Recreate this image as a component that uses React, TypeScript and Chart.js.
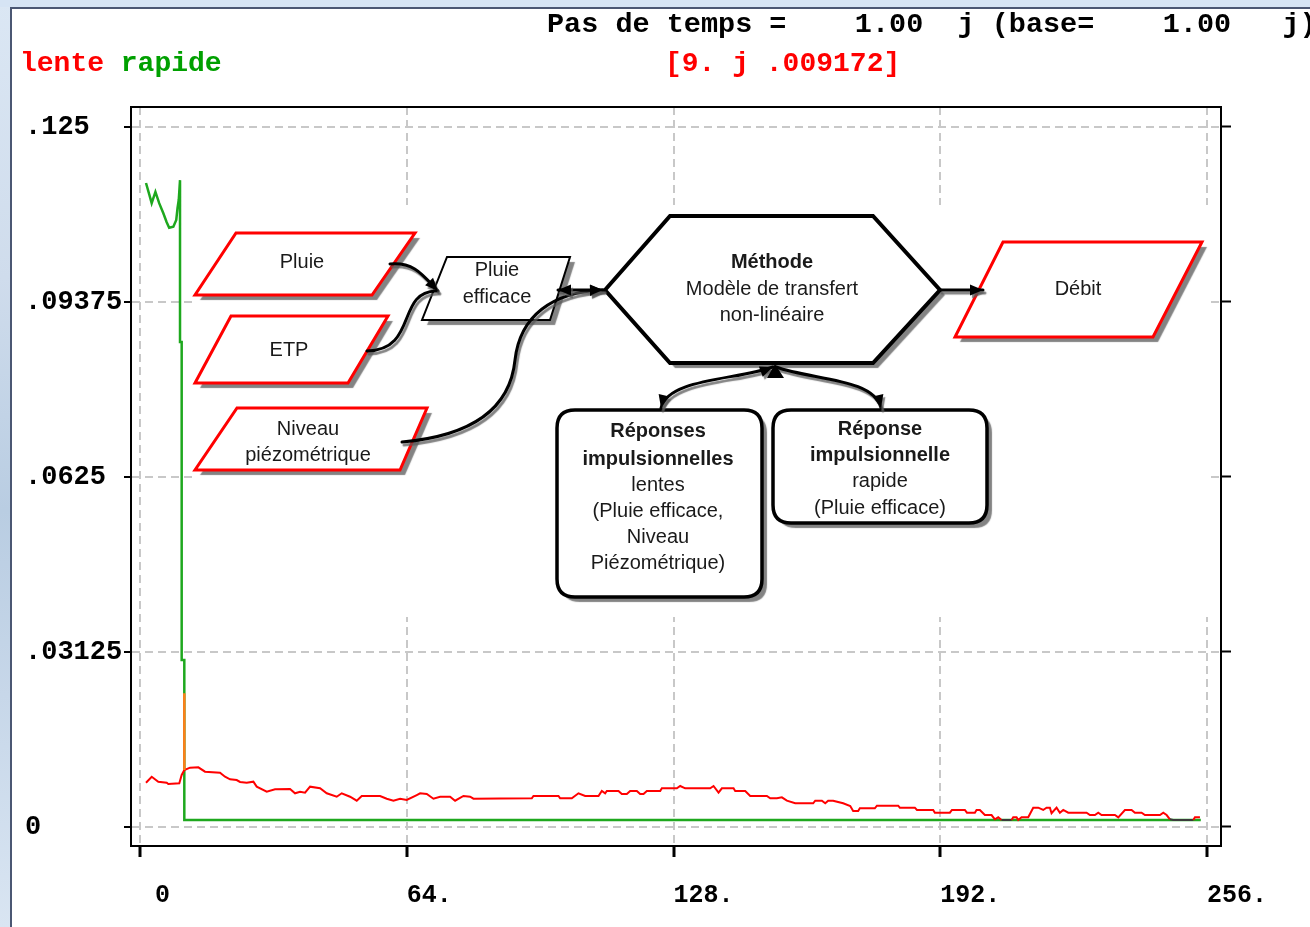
import React, { useEffect, useRef } from 'react';
import { Chart, registerables } from 'chart.js';

Chart.register(...registerables);

// ---------- data (days, values) ----------
const lenteX = [
  1.44, 2.81, 4.39, 6.41, 6.79, 9.43, 10.0, 10.63, 12.0, 14.0,
  15.6, 19.2, 20.4, 21.6, 23.2, 24.0, 25.6, 27.2, 28.0, 30.4,
  32.4, 36.0, 37.2, 38.4, 39.6, 40.8, 43.2, 44.8, 47.2, 48.4,
  50.4, 52.0, 53.2, 57.6, 59.2, 60.8, 62.4, 64.0, 66.4, 67.2,
  68.8, 70.4, 72.0, 74.4, 75.6, 77.6, 79.2, 80.0, 86.4, 94.0,
  94.4, 100.4, 100.8, 103.6, 105.2, 106.8, 110.0, 110.8, 111.6, 112.0,
  114.8, 115.6, 116.8, 117.6, 119.2, 120.0, 120.8, 121.6, 124.8, 125.2,
  128.8, 129.6, 130.8, 136.8, 137.6, 138.8, 139.6, 142.4, 142.8, 145.2,
  146.4, 150.4, 151.2, 152.8, 154.0, 155.2, 157.2, 161.5, 162.0, 163.6,
  164.4, 165.1, 166.3, 168.7, 170.4, 171.1, 172.3, 172.7, 176.3, 176.8,
  181.9, 182.3, 185.9, 186.4, 190.3, 190.7, 194.3, 194.8, 197.9, 198.4,
  200.3, 200.7, 201.5, 202.7, 204.3, 205.1, 205.9, 206.7, 209.1, 209.5,
  210.3, 210.7, 211.5, 213.1, 214.3, 215.5, 216.7, 217.5, 218.3, 218.7,
  219.9, 220.7, 221.5, 222.7, 227.1, 227.9, 229.1, 229.9, 230.7, 233.9,
  234.7, 236.3, 237.9, 238.7, 240.3, 241.1, 244.7, 245.5, 246.3, 247.1,
  247.9, 252.7, 253.1, 254.3,
];
const lenteY = [
  0.00791, 0.00898, 0.00809, 0.00791, 0.00768, 0.0078, 0.00929, 0.01018, 0.01059, 0.01066,
  0.00988, 0.0097, 0.00898, 0.00852, 0.00839, 0.00804, 0.00791, 0.00809, 0.0072, 0.0063,
  0.00673, 0.00679, 0.00602, 0.0063, 0.00613, 0.0072, 0.00691, 0.00602, 0.00541, 0.00602,
  0.00541, 0.0047, 0.00554, 0.00554, 0.00505, 0.0047, 0.00505, 0.00482, 0.00571, 0.00602,
  0.00589, 0.00505, 0.00541, 0.00541, 0.0047, 0.00554, 0.00541, 0.00505, 0.00509, 0.00512,
  0.00554, 0.00554, 0.00512, 0.00512, 0.00602, 0.00554, 0.00554, 0.00643, 0.00602, 0.00643,
  0.00643, 0.00589, 0.00589, 0.00643, 0.00643, 0.00589, 0.00589, 0.00643, 0.00643, 0.00691,
  0.00691, 0.00732, 0.00691, 0.00691, 0.00732, 0.00613, 0.00691, 0.00691, 0.00643, 0.00643,
  0.00554, 0.00554, 0.00512, 0.00512, 0.0053, 0.0047, 0.00423, 0.00423, 0.0047, 0.0047,
  0.00423, 0.0047, 0.0047, 0.00423, 0.00375, 0.00286, 0.00286, 0.00334, 0.00334, 0.0038,
  0.0038, 0.00345, 0.00345, 0.00304, 0.00304, 0.00255, 0.00255, 0.00304, 0.00304, 0.00255,
  0.00255, 0.00304, 0.00304, 0.00214, 0.00214, 0.00138, 0.00173, 0.00125, 0.00125, 0.00173,
  0.00173, 0.00125, 0.00173, 0.00173, 0.00345, 0.00345, 0.00304, 0.00345, 0.00345, 0.00245,
  0.00345, 0.00255, 0.00304, 0.00255, 0.00255, 0.00214, 0.00214, 0.00255, 0.00214, 0.00214,
  0.00173, 0.00304, 0.00304, 0.00255, 0.00255, 0.00214, 0.00214, 0.00255, 0.00214, 0.00138,
  0.00125, 0.00125, 0.00173, 0.00173,
];
const rapideX = [1.44, 2.2, 2.8, 3.7, 4.6, 5.6, 6.4, 7.0, 8.0, 8.7, 9.0, 9.3, 9.6, 9.6, 10.0, 10.0, 10.63, 10.63, 254.5];
const rapideY = [0.115, 0.113, 0.1114, 0.1134, 0.1114, 0.1096, 0.108, 0.107, 0.1072, 0.1084, 0.1105, 0.112, 0.1155, 0.0866, 0.0866, 0.0298, 0.0298, 0.00125, 0.00125];
const overlapX = [10.63, 10.63];
const overlapY = [0.0239, 0.0102];

const seriesNames = ['lente', 'rapide'];
const xTicks = [0, 64, 128, 192, 256];
const xTickLabels = [' 0', '64.', '128.', '192.', '256.'];
const yTicks = [0, 0.03125, 0.0625, 0.09375, 0.125];
const yTickLabels = ['0', '.03125', '.0625', '.09375', '.125'];
const titleText = 'Pas de temps =    1.00  j (base=    1.00   j)';
const cursorText = '[9. j .009172]';

const X_MIN = -2.159;
const X_MAX = 259.35;
const Y_MIN = -0.003393;
const Y_MAX = 0.128571;

const MONO = '"Liberation Mono", "DejaVu Sans Mono", monospace';
const SANS = '"Liberation Sans", Arial, sans-serif';

const headerPlugin = {
  id: 'header',
  afterDraw(chart: any) {
    const ctx = chart.ctx;
    ctx.save();
    ctx.textBaseline = 'middle';
    ctx.textAlign = 'left';
    ctx.fillStyle = '#000';
    ctx.font = `bold 28.5px ${MONO}`;
    ctx.fillText(titleText, 547, 25);
    ctx.font = `bold 28px ${MONO}`;
    let x = 20;
    chart.data.datasets.forEach((ds: any) => {
      if (!ds.inLegend) return;
      ctx.fillStyle = ds.legendColor || ds.borderColor;
      ctx.fillText(ds.label, x, 64);
      x += ctx.measureText(ds.label + ' ').width;
    });
    ctx.fillStyle = '#ff0000';
    ctx.fillText(cursorText, 665, 64);
    // top frame line
    const a = chart.chartArea;
    ctx.strokeStyle = '#000';
    ctx.lineWidth = 2;
    ctx.beginPath();
    ctx.moveTo(a.left - 1, a.top);
    ctx.lineTo(a.right + 1, a.top);
    ctx.stroke();
    ctx.restore();
  },
};

const flowchartPlugin = {
  id: 'flowchart',
  afterDraw(chart: any) {
    const ctx: CanvasRenderingContext2D = chart.ctx;
    ctx.save();
    ctx.fillStyle = '#fff';
    ctx.fillRect(195, 205, 1014, 412);

    const shadowOn = (dx = 5, dy = 5) => {
      ctx.shadowColor = 'rgba(90,90,90,0.75)';
      ctx.shadowOffsetX = dx;
      ctx.shadowOffsetY = dy;
      ctx.shadowBlur = 1;
    };
    const shadowOff = () => {
      ctx.shadowColor = 'rgba(0,0,0,0)';
      ctx.shadowOffsetX = 0;
      ctx.shadowOffsetY = 0;
      ctx.shadowBlur = 0;
    };
    const polyPath = (pts: number[][]) => {
      ctx.beginPath();
      pts.forEach(([x, y], i) => (i ? ctx.lineTo(x, y) : ctx.moveTo(x, y)));
      ctx.closePath();
    };
    const shape = (pathFn: () => void, stroke: string, lw: number) => {
      pathFn();
      shadowOn();
      ctx.fillStyle = '#fff';
      ctx.fill();
      shadowOff();
      ctx.strokeStyle = stroke;
      ctx.lineWidth = lw;
      ctx.lineJoin = 'miter';
      pathFn();
      ctx.stroke();
    };
    const roundRect = (x: number, y: number, w: number, h: number, r: number) => () => {
      ctx.beginPath();
      ctx.moveTo(x + r, y);
      ctx.lineTo(x + w - r, y);
      ctx.quadraticCurveTo(x + w, y, x + w, y + r);
      ctx.lineTo(x + w, y + h - r);
      ctx.quadraticCurveTo(x + w, y + h, x + w - r, y + h);
      ctx.lineTo(x + r, y + h);
      ctx.quadraticCurveTo(x, y + h, x, y + h - r);
      ctx.lineTo(x, y + r);
      ctx.quadraticCurveTo(x, y, x + r, y);
      ctx.closePath();
    };
    const text = (s: string, x: number, y: number, bold = false) => {
      ctx.font = `${bold ? 'bold ' : ''}20px ${SANS}`;
      ctx.fillStyle = '#1a1a1a';
      ctx.textAlign = 'center';
      ctx.textBaseline = 'middle';
      ctx.fillText(s, x, y);
    };
    const head = (x: number, y: number, fx: number, fy: number, size = 13) => {
      const a = Math.atan2(y - fy, x - fx);
      const c = Math.cos(a), s = Math.sin(a);
      ctx.beginPath();
      ctx.moveTo(x, y);
      ctx.lineTo(x - size * c + size * 0.42 * s, y - size * s - size * 0.42 * c);
      ctx.lineTo(x - size * c - size * 0.42 * s, y - size * s + size * 0.42 * c);
      ctx.closePath();
      ctx.fill();
    };
    const curve = (start: number[], segs: number[][], headStart: boolean, headEnd: boolean) => {
      ctx.strokeStyle = '#000';
      ctx.fillStyle = '#000';
      ctx.lineWidth = 3;
      ctx.lineCap = 'round';
      shadowOn(2, 3);
      ctx.beginPath();
      ctx.moveTo(start[0], start[1]);
      segs.forEach((s) => (s.length === 6 ? ctx.bezierCurveTo(s[0], s[1], s[2], s[3], s[4], s[5]) : ctx.lineTo(s[0], s[1])));
      ctx.stroke();
      const last = segs[segs.length - 1];
      const ex = last[last.length - 2], ey = last[last.length - 1];
      let fx = start[0], fy = start[1];
      if (last.length === 6) { fx = last[2]; fy = last[3]; }
      else if (segs.length > 1) { const p = segs[segs.length - 2]; fx = p[p.length - 2]; fy = p[p.length - 1]; }
      if (headEnd) head(ex, ey, fx, fy);
      if (headStart) head(start[0], start[1], segs[0][0], segs[0][1]);
      shadowOff();
    };

    // input parallelograms (red)
    shape(() => polyPath([[236, 233], [415, 233], [372, 295], [195, 295]]), '#ff0000', 3);
    shape(() => polyPath([[231, 316], [388, 316], [348, 383], [195, 383]]), '#ff0000', 3);
    shape(() => polyPath([[237, 408], [427, 408], [400, 470], [195, 470]]), '#ff0000', 3);
    // Pluie efficace
    shape(() => polyPath([[447, 257], [570, 257], [550, 320], [422, 320]]), '#000', 2);
    // hexagon
    shape(() => polyPath([[605, 290], [670, 216], [873, 216], [940, 290], [873, 363], [670, 363]]), '#000', 4);
    // Débit
    shape(() => polyPath([[1003, 242], [1202, 242], [1153, 337], [955, 337]]), '#ff0000', 3);
    // rounded boxes
    shape(roundRect(557, 410, 205, 187, 18), '#000', 3.5);
    shape(roundRect(773, 410, 214, 113, 18), '#000', 3.5);

    // arrows
    curve([390, 264], [[414, 262, 422, 274, 438, 291]], false, true);
    curve([367, 351], [[418, 350, 396, 292, 436, 291]], false, false);
    curve([402, 442], [[470, 436, 510, 410, 515, 360], [520, 316, 552, 292, 603, 290]], false, true);
    curve([558, 290], [[603, 290]], true, true);
    curve([940, 290], [[983, 290]], false, true);
    curve([773, 367], [[738, 380, 668, 378, 661, 408]], true, true);
    curve([776, 367], [[812, 380, 874, 378, 881, 408]], false, true);
    ctx.fillStyle = '#000';
    ctx.beginPath();
    ctx.moveTo(775, 364);
    ctx.lineTo(767, 378);
    ctx.lineTo(784, 378);
    ctx.closePath();
    ctx.fill();

    // texts
    text('Pluie', 302, 262);
    text('ETP', 289, 350);
    text('Niveau', 308, 429);
    text('piézométrique', 308, 455);
    text('Pluie', 497, 270);
    text('efficace', 497, 297);
    text('Méthode', 772, 262, true);
    text('Modèle de transfert', 772, 289);
    text('non-linéaire', 772, 315);
    text('Débit', 1078, 289);
    text('Réponses', 658, 431, true);
    text('impulsionnelles', 658, 459, true);
    text('lentes', 658, 485);
    text('(Pluie efficace,', 658, 511);
    text('Niveau', 658, 537);
    text('Piézométrique)', 658, 563);
    text('Réponse', 880, 429, true);
    text('impulsionnelle', 880, 455, true);
    text('rapide', 880, 481);
    text('(Pluie efficace)', 880, 508);
    ctx.restore();
  },
};

const LOW = 0.0015;

export default function App() {
  const ref = useRef<HTMLCanvasElement | null>(null);
  useEffect(() => {
    if (!ref.current) return;
    const gridColor = '#c8c8c8';
    const chart = new Chart(ref.current, {
      type: 'line',
      data: {
        datasets: [
          {
            label: 'overlap',
            inLegend: false,
            data: overlapX.map((x, i) => ({ x, y: overlapY[i] })),
            borderColor: '#ff7f1a',
            borderWidth: 2.5,
            pointRadius: 0,
            order: -1,
          } as any,
          {
            label: seriesNames[0],
            inLegend: true,
            data: lenteX.map((x, i) => ({ x, y: lenteY[i] })),
            borderColor: '#ff0000',
            borderWidth: 2,
            pointRadius: 0,
            tension: 0,
            order: 0,
            segment: {
              borderColor: (c: any) => (c.p0.parsed.y < LOW && c.p1.parsed.y < LOW ? '#3a3a3a' : undefined),
            },
          } as any,
          {
            label: seriesNames[1],
            inLegend: true,
            legendColor: '#00a000',
            data: rapideX.map((x, i) => ({ x, y: rapideY[i] })),
            borderColor: '#1ea81e',
            borderWidth: 2.5,
            pointRadius: 0,
            tension: 0,
            order: 1,
          } as any,
        ],
      },
      options: {
        animation: false,
        responsive: false,
        devicePixelRatio: 1,
        events: [],
        layout: { padding: { left: 25, top: 107, right: 0, bottom: 0 } },
        plugins: { legend: { display: false }, tooltip: { enabled: false }, title: { display: false } },
        scales: {
          x: {
            type: 'linear',
            position: 'bottom',
            min: X_MIN,
            max: X_MAX,
            afterBuildTicks: (s: any) => {
              s.ticks = xTicks.map((v) => ({ value: v }));
            },
            afterFit: (s: any) => {
              s.height = 81;
            },
            ticks: {
              autoSkip: false,
              maxRotation: 0,
              align: 'start',
              padding: 24,
              color: '#000',
              font: { family: MONO, size: 25, weight: 'bold' },
              callback: (v: any) => xTickLabels[xTicks.indexOf(Number(v))] ?? '',
            },
            grid: {
              color: gridColor,
              lineWidth: 2,
              tickColor: '#000',
              tickWidth: 3,
              tickLength: 11,
              tickBorderDash: [],
            },
            border: { display: true, color: '#000', width: 2, dash: [8, 5] },
          } as any,
          y: {
            type: 'linear',
            position: 'left',
            min: Y_MIN,
            max: Y_MAX,
            afterBuildTicks: (s: any) => {
              s.ticks = yTicks.map((v) => ({ value: v }));
            },
            afterFit: (s: any) => {
              s.width = 106;
            },
            ticks: {
              autoSkip: false,
              crossAlign: 'far',
              color: '#000',
              font: { family: MONO, size: 27, weight: 'bold' },
              callback: (v: any) => yTickLabels[yTicks.indexOf(Number(v))] ?? '',
            },
            grid: {
              color: gridColor,
              lineWidth: 2,
              tickColor: '#000',
              tickWidth: 2,
              tickLength: 7,
              tickBorderDash: [],
            },
            border: { display: true, color: '#000', width: 2, dash: [8, 5] },
          } as any,
          y2: {
            type: 'linear',
            position: 'right',
            min: Y_MIN,
            max: Y_MAX,
            afterBuildTicks: (s: any) => {
              s.ticks = yTicks.map((v) => ({ value: v }));
            },
            afterFit: (s: any) => {
              s.width = 89;
            },
            ticks: { display: false },
            grid: {
              drawOnChartArea: false,
              color: '#000',
              tickColor: '#000',
              tickWidth: 2,
              tickLength: 10,
            },
            border: { display: true, color: '#000', width: 2 },
          } as any,
        },
      } as any,
      plugins: [flowchartPlugin, headerPlugin],
    });
    return () => chart.destroy();
  }, []);

  return (
    <div
      style={{
        position: 'fixed',
        left: 0,
        top: 0,
        width: 1310,
        height: 927,
        overflow: 'hidden',
        background: 'linear-gradient(180deg, #dbe7f4 0%, #cfdcec 30%, #b9cde2 55%, #c7d7e9 75%, #d9e5f2 100%)',
      }}
    >
      <div
        style={{
          position: 'absolute',
          left: 0,
          top: 0,
          width: 1310,
          height: 7,
          background: '#d6e4f4',
        }}
      />
      <div
        style={{
          position: 'absolute',
          left: 10,
          top: 7,
          width: 1300,
          height: 920,
          background: '#ffffff',
          borderTop: '2px solid #4b5773',
          borderLeft: '2px solid #4b5773',
          boxSizing: 'border-box',
        }}
      />
      <canvas ref={ref} width={1310} height={927} style={{ position: 'absolute', left: 0, top: 0 }} />
    </div>
  );
}
